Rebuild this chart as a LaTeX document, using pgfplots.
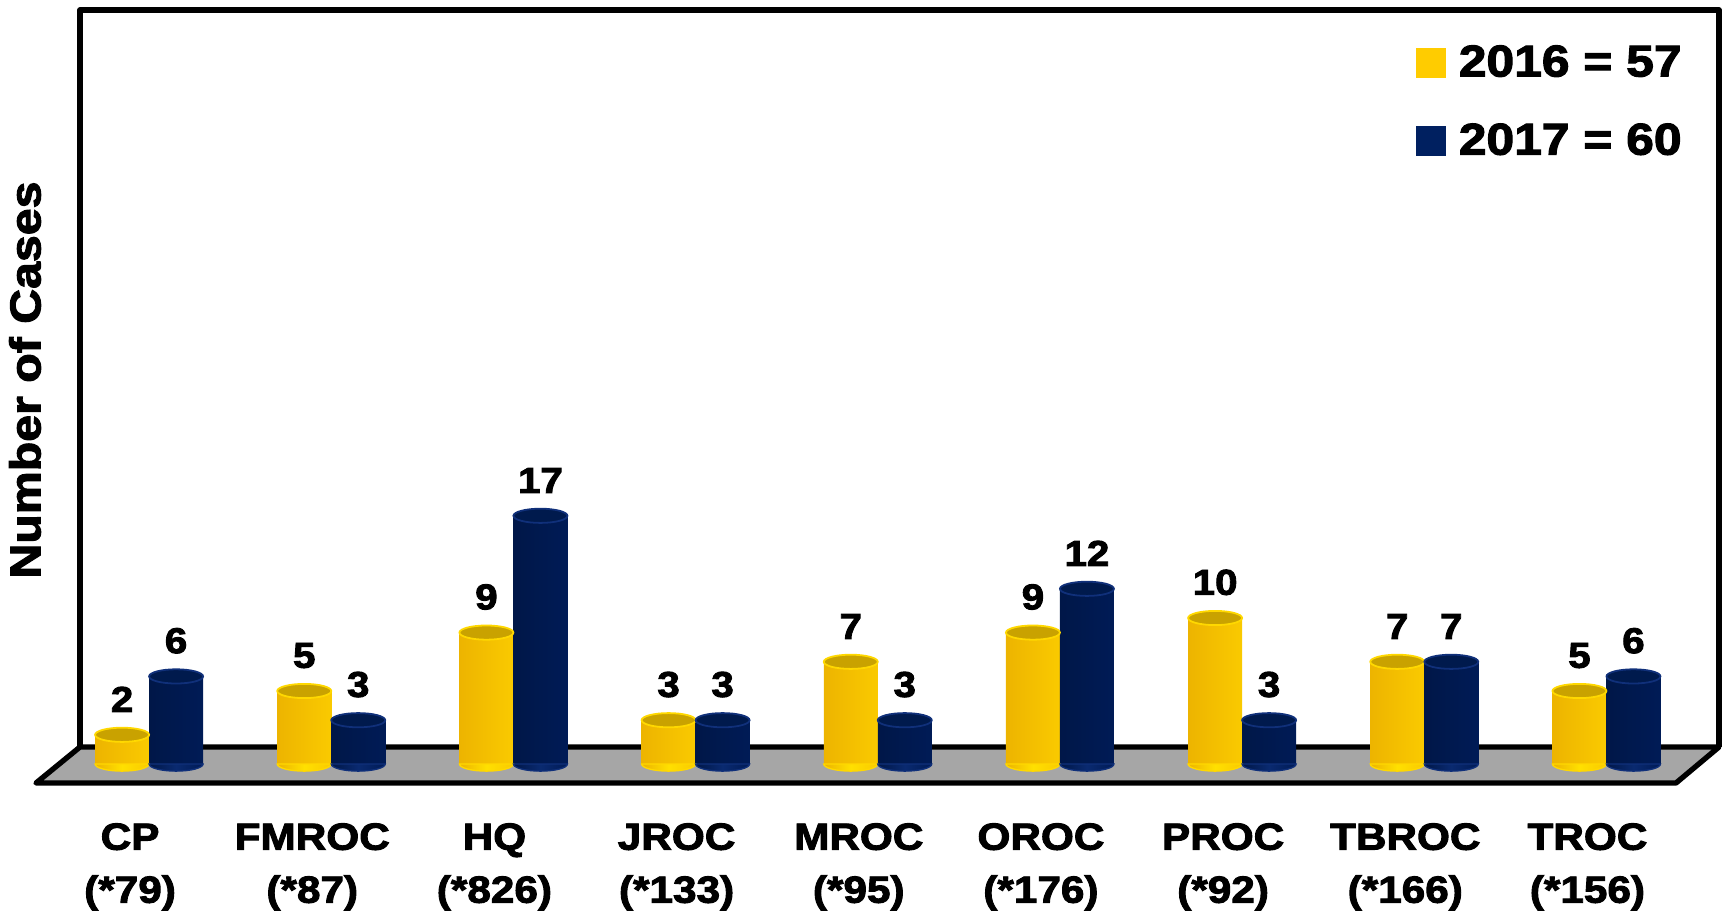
\documentclass[border=0pt]{standalone}
\usepackage{pgfplots}
\usepackage{pgfplotstable}
\pgfplotsset{compat=1.18}
\usepackage{fontspec}
\setmainfont{Liberation Sans}[BoldFeatures={FakeBold=2.5,FakeStretch=1.12}]

% colours
\definecolor{floorgray}{HTML}{A6A6A6}
\definecolor{yleg}{HTML}{FFCC00}
\definecolor{yL}{HTML}{EDB400}
\definecolor{yM}{HTML}{FFE000}
\definecolor{yR}{HTML}{FACA00}
\definecolor{ytop}{HTML}{C9A200}
\definecolor{yrim}{HTML}{FFD800}
\definecolor{bleg}{HTML}{002060}
\definecolor{bL}{HTML}{001748}
\definecolor{bM}{HTML}{0A2A70}
\definecolor{bR}{HTML}{001B56}
\definecolor{btop}{HTML}{001A4D}
\definecolor{brim}{HTML}{10307A}

% horizontal shadings for the cylinder bottoms (same stops as left/middle/right color)
\pgfdeclarehorizontalshading{ycyl}{100bp}{color(0bp)=(yL); color(25bp)=(yL); color(50bp)=(yM); color(75bp)=(yR); color(100bp)=(yR)}
\pgfdeclarehorizontalshading{bcyl}{100bp}{color(0bp)=(bL); color(25bp)=(bL); color(50bp)=(bM); color(75bp)=(bR); color(100bp)=(bR)}

% lower half of a cylinder base
\newcommand\halfbase{%
  \pgfpathmoveto{\pgfpoint{-12.15pt}{0pt}}%
  \pgfpatharc{180}{360}{12.15pt and 3.2pt}%
  \pgfpathclose}
\pgfdeclareplotmark{ybottom}{\halfbase\pgfshadepath{ycyl}{0}\pgfusepath{stroke}}
\pgfdeclareplotmark{bbottom}{\halfbase\pgfshadepath{bcyl}{0}\pgfusepath{stroke}}
% top cap
\pgfdeclareplotmark{captop}{%
  \pgfpathellipse{\pgfpointorigin}{\pgfpoint{12.15pt}{0pt}}{\pgfpoint{0pt}{3.2pt}}%
  \pgfusepath{fill,stroke}}

\newcommand\tickfont{\fontsize{17}{23.85}\selectfont\bfseries}
\newcommand\valfont{\fontsize{16.2}{18}\selectfont\bfseries}
\newcommand\legfont{\fontsize{20}{24}\selectfont\bfseries}
\newcommand\labfont{\fontsize{19.4}{23}\selectfont\bfseries}

% cases per office, 2016 and 2017
\pgfplotstableread{
x y16 y17
0 2 6
1 5 3
2 9 17
3 3 3
4 7 3
5 9 12
6 10 3
7 7 7
8 5 6
}\cases

\begin{document}
\begin{tikzpicture}
\useasboundingbox (0,0) rectangle (777.15pt,409.95pt);
% floor and back wall
\filldraw[fill=floorgray, draw=black, line width=2.4pt, line join=round]
  (36pt,73.8pt) -- (773.55pt,73.8pt) -- (754.2pt,57.6pt) -- (16.2pt,57.6pt) -- cycle;
\draw[line width=2.4pt, line join=round]
  (36pt,73.8pt) -- (36pt,405.45pt) -- (773.55pt,405.45pt) -- (773.55pt,73.8pt);

\begin{axis}[
  at={(26.1pt,66.15pt)}, anchor=south west,
  width=737.8pt, height=328.5pt, scale only axis,
  xmin=-0.5, xmax=8.5, ymin=0, ymax=50,
  clip=false,
  axis line style={draw=none},
  major tick length=0pt,
  ytick=\empty,
  xtick={0,...,8},
  xticklabels={{CP\\(*79)},{FMROC\\(*87)},{HQ\\(*826)},{JROC\\(*133)},{MROC\\(*95)},{OROC\\(*176)},{PROC\\(*92)},{TBROC\\(*166)},{TROC\\(*156)}},
  xticklabel style={anchor=north, align=center, inner sep=0pt, font=\tickfont, xshift=-8.55pt, yshift=-26.5pt},
  legend style={at={(axis description cs:0.9906,0.985)}, anchor=north east, draw=none, fill=none,
    inner sep=0pt, font=\legfont, row sep=19.7pt, column sep=6pt, nodes={inner sep=0pt}},
  legend cell align=left,
  every node near coord/.append style={font=\valfont, inner sep=0pt, anchor=south, yshift=9.9pt, text=black},
]
% 2016: base, one shaded body per office, cap with value
\addplot[only marks, mark=ybottom, mark options={draw=yrim, line width=0.6pt, xshift=-12.15pt}, forget plot]
  table[x=x, y expr=0] {\cases};
\pgfplotsinvokeforeach{0,...,8}{
  \addplot[ybar, bar width=24.3pt, bar shift=-12.15pt, draw=none,
    left color=yL, middle color=yM, right color=yR, forget plot,
    x filter/.expression={\coordindex==#1 ? x : nan}]
    table[x=x, y=y16] {\cases};
}
\addplot[only marks, mark=captop, mark options={fill=ytop, draw=yrim, line width=0.8pt, xshift=-12.15pt},
  nodes near coords, point meta=explicit symbolic,
  legend image code/.code={\fill[yleg] (0pt,-6.5pt) rectangle (13pt,6.5pt);}]
  table[x=x, y=y16, meta=y16] {\cases};
\addlegendentry{2016 = 57}
% 2017
\addplot[only marks, mark=bbottom, mark options={draw=brim, line width=0.6pt, xshift=12.15pt}, forget plot]
  table[x=x, y expr=0] {\cases};
\pgfplotsinvokeforeach{0,...,8}{
  \addplot[ybar, bar width=24.3pt, bar shift=12.15pt, draw=none,
    left color=bL, middle color=bM, right color=bR, forget plot,
    x filter/.expression={\coordindex==#1 ? x : nan}]
    table[x=x, y=y17] {\cases};
}
\addplot[only marks, mark=captop, mark options={fill=btop, draw=brim, line width=0.8pt, xshift=12.15pt},
  nodes near coords, point meta=explicit symbolic,
  legend image code/.code={\fill[bleg] (0pt,-6.5pt) rectangle (13pt,6.5pt);}]
  table[x=x, y=y17, meta=y17] {\cases};
\addlegendentry{2017 = 60}
\end{axis}

\node[rotate=90, inner sep=0pt, font=\labfont] at (11.25pt,238.95pt) {Number of Cases};
\end{tikzpicture}
\end{document}
